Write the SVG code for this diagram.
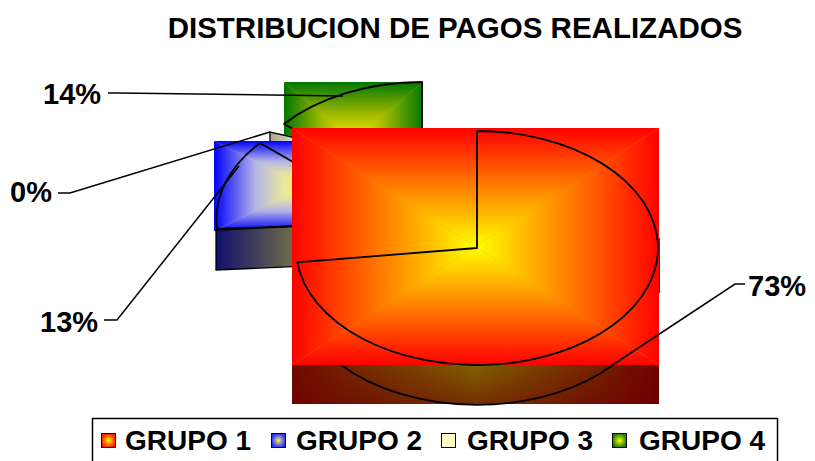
<svg xmlns="http://www.w3.org/2000/svg" xmlns:xlink="http://www.w3.org/1999/xlink" width="815" height="461" viewBox="0 0 815 461">
<style>
text{font-family:"Liberation Sans",Arial,sans-serif;font-weight:bold;fill:#000}
.t{font-size:29px}
.tt{font-size:29.5px}
.lg{font-size:28px}
.ol{fill:none;stroke:#000;stroke-width:1.8;stroke-linejoin:round}
.ld{fill:none;stroke:#000;stroke-width:1.5}
.key{stroke:#000;stroke-width:1}
</style>
<defs>
<linearGradient id="rT" x1="0" y1="0" x2="0" y2="1"><stop offset="0" stop-color="#ff0000"/><stop offset="1" stop-color="#ffff00"/></linearGradient>
<linearGradient id="rB" xlink:href="#rT" x1="0" y1="1" x2="0" y2="0"/>
<linearGradient id="rL" xlink:href="#rT" x1="0" y1="0" x2="1" y2="0"/>
<linearGradient id="rR" xlink:href="#rT" x1="1" y1="0" x2="0" y2="0"/>
<linearGradient id="bT" x1="0" y1="0" x2="0" y2="1"><stop offset="0" stop-color="#0000ff"/><stop offset="0.45" stop-color="#b4b4e6"/><stop offset="0.75" stop-color="#e8e8a0"/><stop offset="1" stop-color="#f8f840"/></linearGradient>
<linearGradient id="bB" xlink:href="#bT" x1="0" y1="1" x2="0" y2="0"/>
<linearGradient id="bL" xlink:href="#bT" x1="0" y1="0" x2="1" y2="0"/>
<linearGradient id="bR" xlink:href="#bT" x1="1" y1="0" x2="0" y2="0"/>
<linearGradient id="gT" x1="0" y1="0" x2="0" y2="1"><stop offset="0" stop-color="#007800"/><stop offset="0.55" stop-color="#a0b800"/><stop offset="1" stop-color="#f4f400"/></linearGradient>
<linearGradient id="gB" xlink:href="#gT" x1="0" y1="1" x2="0" y2="0"/>
<linearGradient id="gL" xlink:href="#gT" x1="0" y1="0" x2="1" y2="0"/>
<linearGradient id="gR" xlink:href="#gT" x1="1" y1="0" x2="0" y2="0"/>
<linearGradient id="rSide" gradientUnits="userSpaceOnUse" x1="292" y1="0" x2="659" y2="0"><stop offset="0" stop-color="#700800"/><stop offset="0.5" stop-color="#806000"/><stop offset="1" stop-color="#700000"/></linearGradient>
<linearGradient id="shade" x1="0" y1="0" x2="0" y2="1"><stop offset="0" stop-color="#6a0000" stop-opacity="0"/><stop offset="1" stop-color="#6a0000" stop-opacity="0.5"/></linearGradient>
<linearGradient id="bSide" gradientUnits="userSpaceOnUse" x1="216" y1="0" x2="398" y2="0"><stop offset="0" stop-color="#10106e"/><stop offset="0.5" stop-color="#807c40"/><stop offset="1" stop-color="#10106e"/></linearGradient>
<linearGradient id="grey" x1="0" y1="0" x2="1" y2="0"><stop offset="0" stop-color="#a8a890"/><stop offset="1" stop-color="#d8d8c8"/></linearGradient>
<radialGradient id="kR"><stop offset="0" stop-color="#ffff00"/><stop offset="1" stop-color="#ff2000"/></radialGradient>
<radialGradient id="kB"><stop offset="0" stop-color="#f0f060"/><stop offset="1" stop-color="#3030ff"/></radialGradient>
<radialGradient id="kG"><stop offset="0" stop-color="#ffff00"/><stop offset="1" stop-color="#208000"/></radialGradient>
</defs>
<rect width="815" height="461" fill="#fff"/>
<text class="tt" x="455" y="38" text-anchor="middle">DISTRIBUCION DE PAGOS REALIZADOS</text>

<g id="grupo4">
<rect x="284" y="82" width="139" height="117" fill="#b0c000"/>
<polygon points="284,82 423,82 353.5,140.5" fill="url(#gT)"/>
<polygon points="284,199 423,199 353.5,140.5" fill="url(#gB)"/>
<polygon points="284,82 284,199 353.5,140.5" fill="url(#gL)"/>
<polygon points="423,82 423,199 353.5,140.5" fill="url(#gR)"/>
<path class="ol" d="M284,124 A181,117 0 0 1 422,82 L422,199 Z"/>
</g>

<g id="grupo3">
<polygon points="270,132 292,136 292,141 270,141" fill="url(#grey)"/>
<polyline points="270,141 270,132 292,137" fill="none" stroke="#000" stroke-width="1.3"/>
</g>

<g id="grupo2">
<rect x="214" y="141" width="184" height="90" fill="#c0c0c0"/>
<polygon points="214,141 398,141 306,186" fill="url(#bT)"/>
<polygon points="214,231 398,231 306,186" fill="url(#bB)"/>
<polygon points="214,141 214,231 306,186" fill="url(#bL)"/>
<polygon points="398,141 398,231 306,186" fill="url(#bR)"/>
<polygon points="216,230 398,222 398,262 216,270" fill="url(#bSide)" stroke="#000" stroke-width="1.3"/>
<path class="ol" d="M260,143 A181,117 0 0 0 217,229 L398,222 Z"/>
</g>

<g id="grupo1">
<rect x="292" y="128" width="367" height="237" fill="#ff8000"/>
<polygon points="292,128 659,128 475.5,246.5" fill="url(#rT)"/>
<polygon points="292,365 659,365 475.5,246.5" fill="url(#rB)"/>
<polygon points="292,128 292,365 475.5,246.5" fill="url(#rL)"/>
<polygon points="659,128 659,365 475.5,246.5" fill="url(#rR)"/>
<rect x="292" y="365" width="367" height="39" fill="url(#rSide)"/>
<rect x="292" y="365" width="367" height="39" fill="url(#shade)"/>
<line x1="659.5" y1="238" x2="659.5" y2="293" stroke="#333" stroke-width="1"/>
<path class="ol" d="M477,248 L477,131 A181,117 0 1 1 297.3,262.3 Z"/>
<path class="ol" d="M341,365 A181,117 0 0 0 613,365"/>
</g>

<g id="connectors">
<polyline class="ld" points="108,93 118,93 343,96"/>
<polyline class="ld" points="58,193 70,193 270,132"/>
<polyline class="ld" points="104,320 117,320 239,166"/>
<polyline class="ld" points="745,284 735,284 611,366"/>
</g>

<g id="labels">
<text class="t" x="43" y="104">14%</text>
<text class="t" x="10" y="202">0%</text>
<text class="t" x="40" y="332">13%</text>
<text class="t" x="748" y="296">73%</text>
</g>

<g id="legend">
<rect x="92.5" y="418.5" width="685" height="50" fill="#fff" stroke="#000" stroke-width="1.5"/>
<rect class="key" x="101.5" y="433.5" width="14" height="14" fill="url(#kR)"/>
<text class="lg" x="125" y="450">GRUPO 1</text>
<rect class="key" x="271.5" y="433.5" width="14" height="14" fill="url(#kB)"/>
<text class="lg" x="296" y="450">GRUPO 2</text>
<rect class="key" x="441.5" y="433.5" width="14" height="14" fill="#ffffcc"/>
<text class="lg" x="467" y="450">GRUPO 3</text>
<rect class="key" x="612.5" y="433.5" width="14" height="14" fill="url(#kG)"/>
<text class="lg" x="639" y="450">GRUPO 4</text>
</g>
</svg>
